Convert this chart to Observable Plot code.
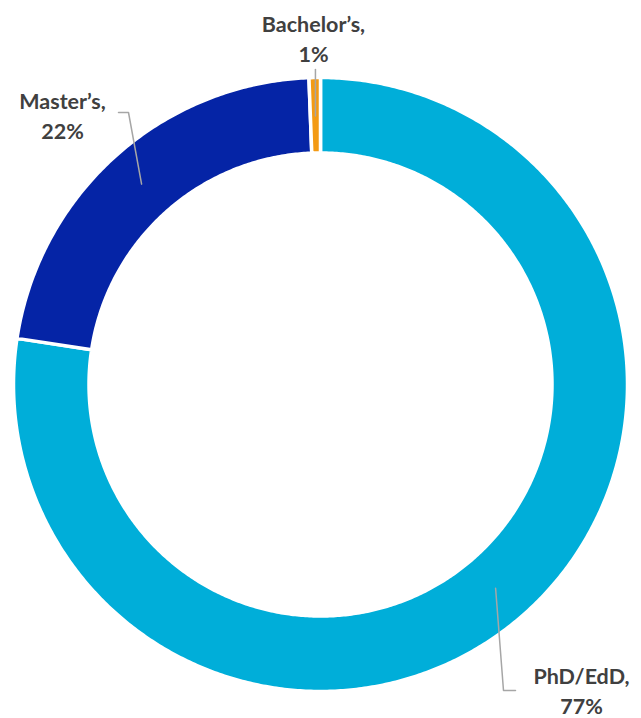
<!DOCTYPE html>
<html>
<head>
<meta charset="utf-8">
<script src="https://cdn.jsdelivr.net/npm/d3@7"></script>
<script src="https://cdn.jsdelivr.net/npm/@observablehq/plot@0.6"></script>
<style>
  html, body { margin: 0; padding: 0; background: #ffffff; }
  #chart svg { display: block; }
</style>
</head>
<body>
<div id="chart"></div>
<script>
// ---- data ----
const categories = ["PhD/EdD", "Master\u2019s", "Bachelor\u2019s"];
const shares = [77.4, 22.0, 0.6];
const shareLabels = ["77%", "22%", "1%"];
const colors = ["#00AED9", "#0524A6", "#F39A14"];

// ---- layout (pixel units relative to the ring centre, y up) ----
const W = 641, H = 718;
const CX = 320, CY = 384;
const R_OUT = 307, R_IN = 231.5;
const LEADER_R = 0.875 * R_OUT;
// elbow/end/text positions of the labels (in the same units)
const labelLayout = [
  {elbow: [183, -306], end: [195, -306], text: [261, -305]},
  {elbow: [-192, 272], end: [-202, 272], text: [-258, 270]},
  {elbow: null, endY: 315, text: [-7, 347.5]}
];

const arcs = d3.pie().sort(null).startAngle(0).endAngle(2 * Math.PI)(shares);

// ring polygons
const ringPts = [];
arcs.forEach((a, i) => {
  const n = Math.max(4, Math.ceil((a.endAngle - a.startAngle) / (Math.PI / 360)));
  for (let k = 0; k <= n; k++) {
    const t = a.startAngle + (a.endAngle - a.startAngle) * k / n;
    ringPts.push({cat: categories[i], x: R_OUT * Math.sin(t), y: R_OUT * Math.cos(t)});
  }
  for (let k = n; k >= 0; k--) {
    const t = a.startAngle + (a.endAngle - a.startAngle) * k / n;
    ringPts.push({cat: categories[i], x: R_IN * Math.sin(t), y: R_IN * Math.cos(t)});
  }
});

// leader lines
const leaderPts = [];
const textPts = [];
arcs.forEach((a, i) => {
  const m = (a.startAngle + a.endAngle) / 2;
  const sx = LEADER_R * Math.sin(m), sy = LEADER_R * Math.cos(m);
  const L = labelLayout[i];
  leaderPts.push({cat: categories[i], x: sx, y: sy});
  if (L.elbow) {
    leaderPts.push({cat: categories[i], x: L.elbow[0], y: L.elbow[1]});
    leaderPts.push({cat: categories[i], x: L.end[0], y: L.end[1]});
  } else {
    leaderPts.push({cat: categories[i], x: sx, y: L.endY});
  }
  textPts.push({x: L.text[0], y: L.text[1], label: categories[i] + ",\n" + shareLabels[i]});
});

const chart = Plot.plot({
  width: W,
  height: H,
  margin: 0,
  x: {domain: [-CX, W - CX], axis: null},
  y: {domain: [-(H - CY), CY], axis: null},
  color: {domain: categories, range: colors},
  style: {background: "#ffffff"},
  marks: [
    Plot.line(ringPts, {
      x: "x", y: "y", z: "cat", fill: "cat",
      stroke: "#ffffff", strokeWidth: 3.5, curve: "linear-closed"
    }),
    Plot.line(leaderPts, {
      x: "x", y: "y", z: "cat",
      stroke: "#A6A6A6", strokeWidth: 1.5
    }),
    Plot.text(textPts, {
      x: "x", y: "y", text: "label",
      fontFamily: "Lato", fontWeight: "bold", fontSize: 21.5,
      lineHeight: 1.4, fill: "#404040", textAnchor: "middle"
    })
  ]
});
document.getElementById("chart").appendChild(chart);
</script>
</body>
</html>
